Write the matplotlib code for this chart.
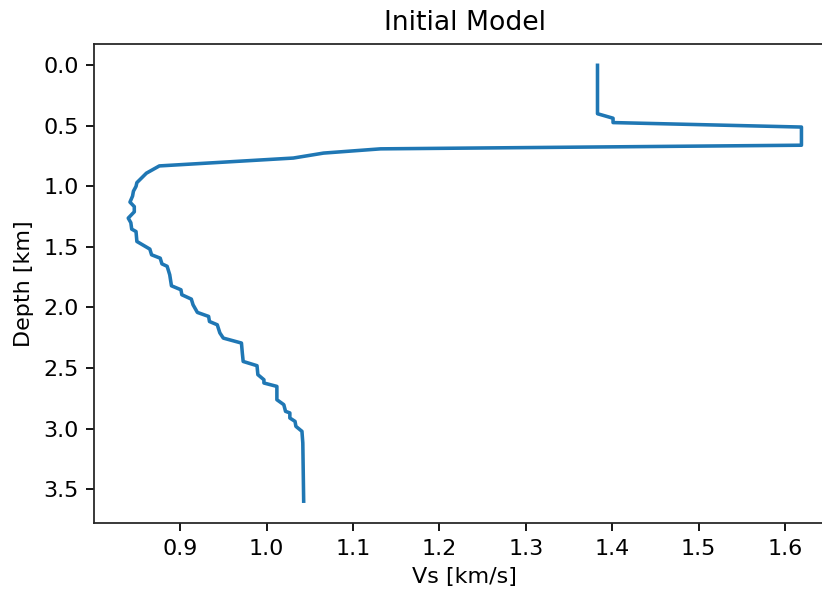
import matplotlib
matplotlib.use("Agg")
import matplotlib.pyplot as plt

vs = [1.383, 1.383, 1.401, 1.401, 1.619, 1.619, 1.132, 1.066, 1.031, 0.876,
      0.861, 0.850, 0.849, 0.846, 0.845, 0.842, 0.847, 0.847, 0.840, 0.843,
      0.844, 0.849, 0.850, 0.865, 0.867, 0.877, 0.879, 0.885, 0.888, 0.890,
      0.901, 0.902, 0.913, 0.915, 0.920, 0.933, 0.934, 0.943, 0.946, 0.950,
      0.971, 0.972, 0.973, 0.989, 0.990, 0.997, 0.997, 1.012, 1.012, 1.020,
      1.022, 1.027, 1.027, 1.033, 1.034, 1.041, 1.042, 1.043]
depth = [0.0, 0.40, 0.437, 0.473, 0.51, 0.66, 0.69, 0.725, 0.766, 0.831,
         0.891, 0.969, 1.0, 1.04, 1.08, 1.13, 1.167, 1.21, 1.262, 1.30,
         1.353, 1.373, 1.455, 1.518, 1.565, 1.593, 1.64, 1.66, 1.73, 1.821,
         1.854, 1.895, 1.931, 1.978, 2.041, 2.074, 2.116, 2.143, 2.21, 2.253,
         2.294, 2.376, 2.446, 2.481, 2.555, 2.597, 2.624, 2.652, 2.762, 2.803,
         2.858, 2.871, 2.913, 2.941, 2.982, 3.023, 3.119, 3.60]

dpi = 160
fig = plt.figure(figsize=(822 / dpi, 592 / dpi), dpi=dpi)
ax = fig.add_axes([0.1148, 0.1166, 1.016 - 0.1148, 0.9265 - 0.1166])
ax.plot(vs, depth, color="#1f77b4", linewidth=1.6)
ax.set_xlim(0.8008, 1.658)
ax.set_ylim(3.78, -0.18)
ax.set_xlabel("Vs [km/s]")
ax.set_ylabel("Depth [km]")
ax.set_title("Initial Model")
for s in ax.spines.values():
    s.set_color("#262626")
fig.savefig("out.png", dpi=dpi)
